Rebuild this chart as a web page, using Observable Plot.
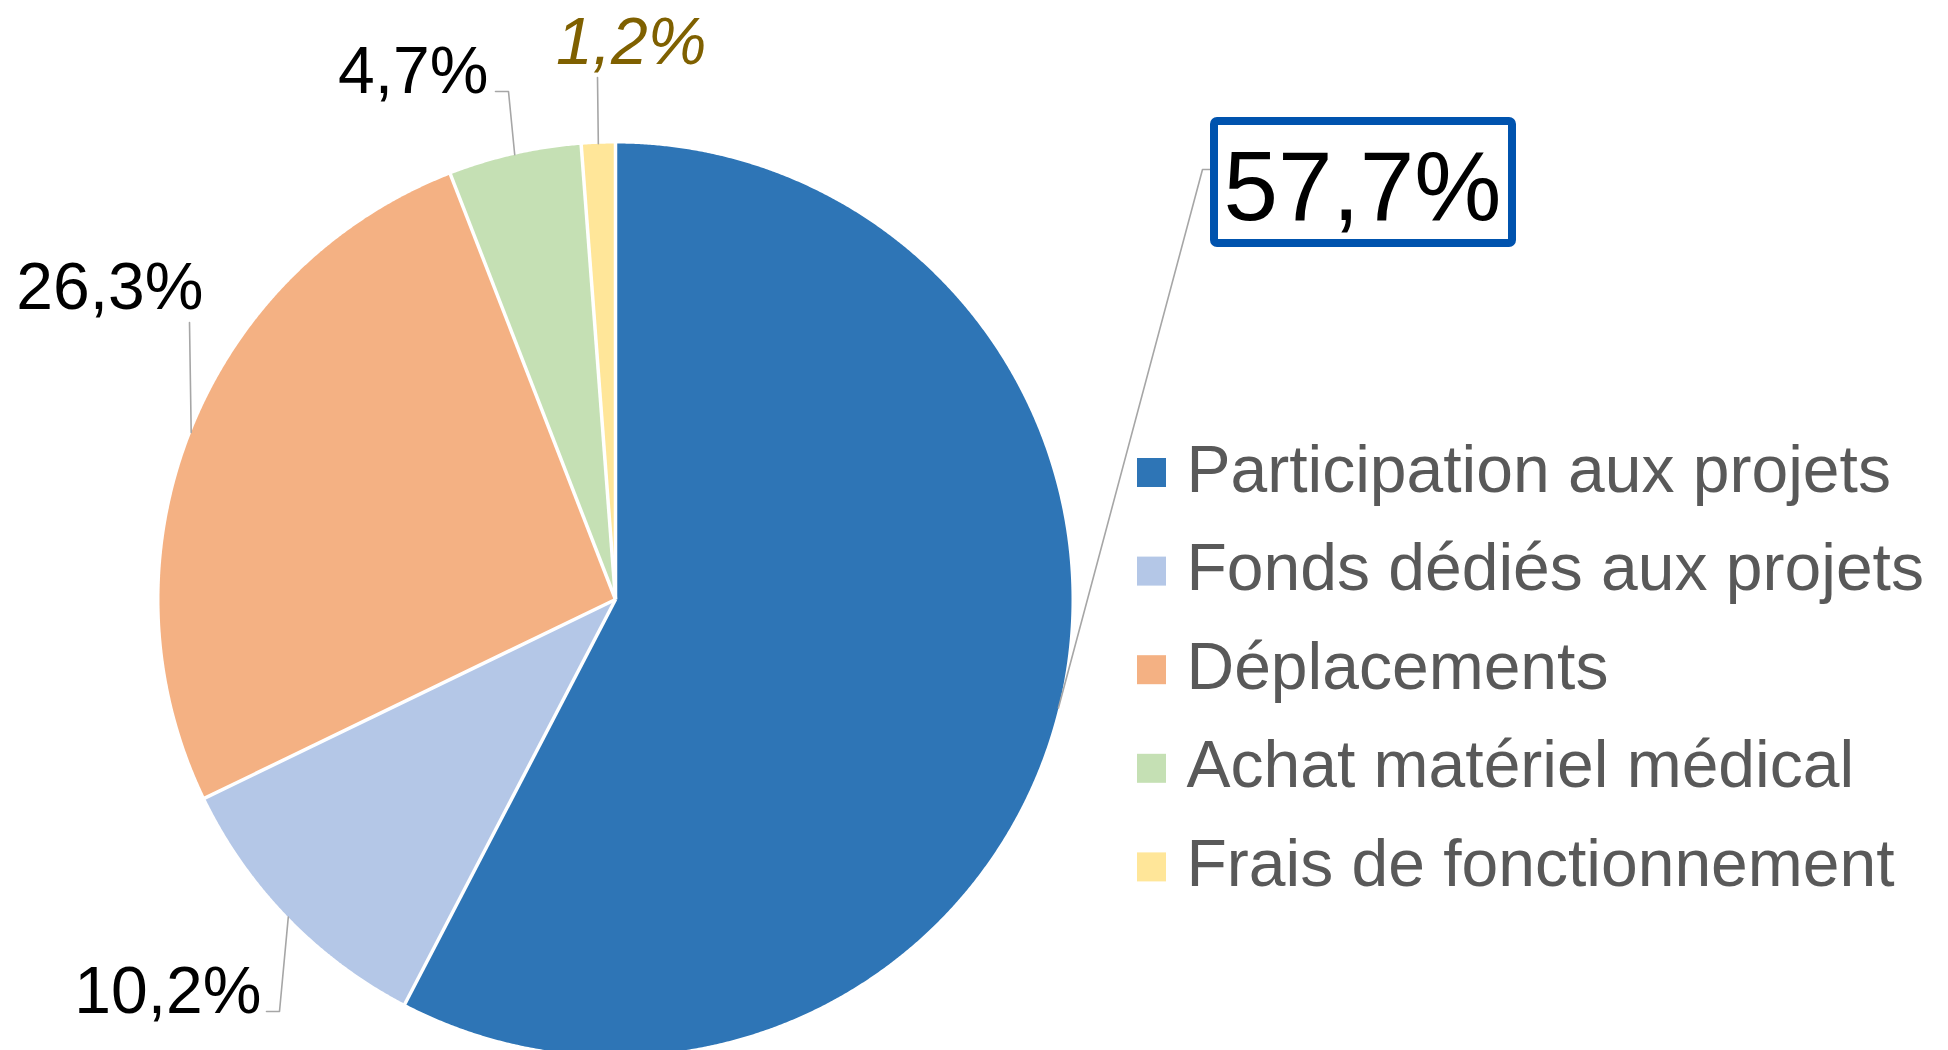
<!DOCTYPE html>
<html>
<head>
<meta charset="utf-8">
<script src="https://cdn.jsdelivr.net/npm/d3@7"></script>
<script src="https://cdn.jsdelivr.net/npm/@observablehq/plot@0.6"></script>
<style>
  html, body { margin: 0; padding: 0; background: #fff; }
  #chart svg { display: block; overflow: hidden; }
</style>
</head>
<body>
<div id="chart"></div>
<script>
// ---- data ----
const categories = ["Participation aux projets", "Fonds dédiés aux projets", "Déplacements", "Achat matériel médical", "Frais de fonctionnement"];
const values = [57.7, 10.2, 26.3, 4.7, 1.2];
const colors = ["#2E75B6", "#B4C7E7", "#F4B183", "#C5E0B4", "#FFE699"];

// ---- layout (pixels) ----
const W = 1948, H = 1050;
const CX = 615, CY = 599, R = 456;
const labelLayout = [
  {x: 1223, y: 219, anchor: "start", size: 98, color: "#000", style: "normal", elbow: [1202, 169], end: [1210, 169]},
  {x: 261, y: 1012, anchor: "end", size: 66, color: "#000", style: "normal", elbow: [279, 1011], end: [266, 1011]},
  {x: 203, y: 308, anchor: "end", size: 66, color: "#000", style: "normal", elbow: null, end: [189, 322]},
  {x: 488, y: 92, anchor: "end", size: 66, color: "#000", style: "normal", elbow: [508, 91], end: [495, 91]},
  {x: 706, y: 63, anchor: "end", size: 66, color: "#7F6000", style: "italic", elbow: null, end: [597, 77]}
];
const box = {x1: 1214, x2: 1512, y1: 121, y2: 243};
const legend = {sx: 1137, sy: 458, size: 29, step: 98.6, tx: 1186, baselineOffset: 33, font: 66};

// ---- geometry from data ----
const fmt = v => d3.format(".1f")(v).replace(".", ",") + "%";
const arcs = d3.pie().sort(null).value(d => d)(values);
const pt = (a, r = R) => ({x: CX + r * Math.sin(a), y: CY - r * Math.cos(a)});

const slicePts = [];
arcs.forEach((a, i) => {
  slicePts.push({cat: categories[i], ...pt(0, 0)});
  const n = Math.max(2, Math.ceil((a.endAngle - a.startAngle) / 0.004));
  for (let k = 0; k <= n; k++) {
    const t = a.startAngle + (a.endAngle - a.startAngle) * k / n;
    slicePts.push({cat: categories[i], ...pt(t)});
  }
});

const seps = arcs.map(a => {
  const p = pt(a.startAngle, R + 2);
  return {x1: CX, y1: CY, x2: p.x, y2: p.y};
});

const leaderPts = [];
arcs.forEach((a, i) => {
  const L = labelLayout[i];
  const m = pt((a.startAngle + a.endAngle) / 2);
  leaderPts.push({k: i, x: m.x, y: m.y});
  if (L.elbow) leaderPts.push({k: i, x: L.elbow[0], y: L.elbow[1]});
  leaderPts.push({k: i, x: L.end[0], y: L.end[1]});
});

const labels = values.map((v, i) => ({text: fmt(v), ...labelLayout[i]}));

const legendRows = categories.map((c, i) => ({
  cat: c,
  x1: legend.sx, x2: legend.sx + legend.size,
  y1: legend.sy + i * legend.step, y2: legend.sy + i * legend.step + legend.size,
  tx: legend.tx, ty: legend.sy + i * legend.step + legend.baselineOffset
}));

const font = "'Liberation Sans', Arial, sans-serif";

const chart = Plot.plot({
  width: W, height: H,
  margin: 0,
  style: {fontFamily: font, background: "#fff", overflow: "hidden"},
  x: {domain: [0, W], range: [0, W], axis: null},
  y: {domain: [0, H], range: [0, H], axis: null},
  color: {domain: categories, range: colors},
  marks: [
    Plot.line(slicePts, {x: "x", y: "y", z: "cat", fill: "cat", stroke: null, curve: "linear-closed"}),
    Plot.link(seps, {x1: "x1", y1: "y1", x2: "x2", y2: "y2", stroke: "#fff", strokeWidth: 3.5}),
    Plot.line(leaderPts, {x: "x", y: "y", z: "k", stroke: "#A6A6A6", strokeWidth: 1.6}),
    Plot.rect([box], {x1: "x1", x2: "x2", y1: "y1", y2: "y2", fill: "#fff", stroke: "#0053AE", strokeWidth: 8, rx: 3}),
    ...labels.map(L => Plot.text([L], {
      x: "x", y: "y", text: "text", textAnchor: L.anchor, lineAnchor: "bottom",
      fontSize: L.size, fill: L.color, fontStyle: L.style, fontFamily: font
    })),
    Plot.rect(legendRows, {x1: "x1", x2: "x2", y1: "y1", y2: "y2", fill: "cat"}),
    Plot.text(legendRows, {x: "tx", y: "ty", text: "cat", textAnchor: "start", lineAnchor: "bottom",
      fontSize: legend.font, fill: "#595959", fontFamily: font})
  ]
});
document.getElementById("chart").appendChild(chart);
</script>
</body>
</html>
